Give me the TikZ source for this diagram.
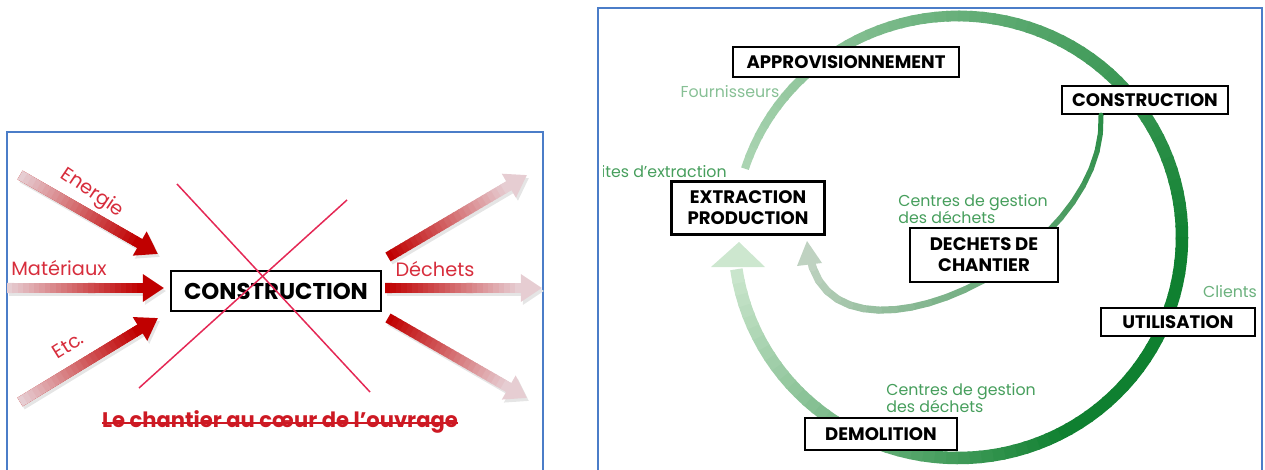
\documentclass[tikz,border=0pt]{standalone}
\usepackage{fontspec}
\setmainfont{Poppins}
\usetikzlibrary{arrows.meta}
\usetikzlibrary{calc}

\definecolor{reddk}{RGB}{192,0,0}
\definecolor{redlt}{RGB}{230,205,210}
\definecolor{redtxt}{RGB}{215,45,60}
\definecolor{redslog}{RGB}{205,25,35}
\definecolor{redx}{RGB}{228,40,85}
\definecolor{panel}{RGB}{75,125,200}
\definecolor{grdk}{RGB}{15,128,48}
\definecolor{grlt}{RGB}{215,236,215}
\definecolor{grgray}{RGB}{200,214,200}
\definecolor{grtxt}{RGB}{70,158,92}

\tikzset{
  box/.style={draw=black, line width=1.3pt, fill=white, align=center, inner sep=2pt,
    font=\bfseries\fontsize{10.3}{12}\selectfont},
  fat/.style={line width=5.8pt},
  redlbl/.style={text=redtxt, inner sep=0pt, font=\fontsize{11}{13}\selectfont},
  grlbl/.style={text=grtxt, inner sep=0pt, font=\fontsize{9}{9.7}\selectfont},
}

\begin{document}
\begin{tikzpicture}[x=0.02cm, y=-0.02cm]
        \useasboundingbox (0,0) rectangle (1265,470);
        % the two frames
        \draw[panel, line width=0.9pt] (7,480) -- (7,132) -- (543,132) -- (543,480);
        \draw[panel, line width=0.9pt] (598,480) -- (598,8) -- (1262,8) -- (1262,480);

        % left: the site at the heart of the work
        \coordinate (ea) at (20,175);  \coordinate (eb) at (158,254);
        \coordinate (ma) at (7,288);   \coordinate (mb) at (164,288);
        \coordinate (ta) at (20,402);  \coordinate (tb) at (158,318);
        \coordinate (da) at (388,257); \coordinate (db) at (527,175);
        \coordinate (oa) at (385,288); \coordinate (ob) at (542,288);
        \coordinate (ua) at (388,318); \coordinate (ub) at (527,398);
        \foreach \s/\e/\ca/\cb in {ea/eb/redlt/reddk, ma/mb/redlt/reddk, ta/tb/redlt/reddk,
            da/db/reddk/redlt, oa/ob/reddk/redlt, ua/ub/reddk/redlt}{
          \draw[fat, black!10, -{Triangle[width=15pt,length=12pt]}] ($(\s)+(2,3)$) -- ($(\e)+(2,3)$);
          \draw[fat, \cb, -{Triangle[width=15pt,length=12pt]}] (\s) -- (\e);
          \foreach \k [evaluate=\k as \p using 100*\k/24] in {0,...,24}
            \draw[fat, \cb!\p!\ca] ($(\s)!\k*0.0345!(\e)$) -- ($(\s)!\k*0.0345+0.045!(\e)$);
        }
        \node[box, minimum width=4.2cm, minimum height=0.8cm,
          font=\bfseries\fontsize{13}{15}\selectfont] (chantier) at (276,291) {CONSTRUCTION};
        \node[redlbl, rotate=-34] (energie) at (92,193) {Energie};
        \node[redlbl] (materiaux) at (59,268) {Matériaux};
        \node[redlbl, rotate=32] (etc) at (68,345) {Etc.};
        \node[redlbl] (dechets) at (435,269) {Déchets};
        \draw[redx, line width=0.85pt] (177,184) -- (370,392);
        \draw[redx, line width=0.85pt] (347,200) -- (139,388);
        \node[text=redslog, inner sep=0pt, font=\bfseries\fontsize{12}{14}\selectfont]
          (ouvrage) at (280,422) {Le chantier au cœur de l’ouvrage};
        \draw[redslog, line width=0.9pt] (ouvrage.mid west) -- (ouvrage.mid east);

        % right: the life cycle
        \coordinate (ctr) at (958,237);
        \foreach \a in {198,201,...,528}{
          \pgfmathsetmacro{\p}{min(100,22+0.48*(\a-198),100-0.8636*(\a-420))}
          \pgfmathsetmacro{\w}{0.569*min(12.5,8+(\a-198)/25)}
          \draw[grdk!\p!grlt, line width=\w pt] (ctr) ++(\a:224 and 221) arc (\a:\a+3.6:224 and 221);
        }
        \fill[grdk!5!grlt] (739,242) -- (765,267) -- (711,267) -- cycle;

        \node[box, minimum width=3.32cm, minimum height=0.56cm] (constr) at (1145,100) {CONSTRUCTION};
        \coordinate (ia) at ([xshift=-0.88cm]constr.south);
        \coordinate (ib) at (809,252);
        \foreach \i in {0,...,24}
          \path (ia) .. controls (1108,262) and (828,388) .. (ib) coordinate[pos=\i/24] (q\i);
        \foreach \i [evaluate=\i as \j using int(\i+1)] in {0,...,23}{
          \pgfmathsetmacro{\p}{85-80*\i/23}
          \pgfmathsetmacro{\w}{0.569*(5+3*\i/23)}
          \draw[grdk!\p!grgray, line width=\w pt, line cap=round] (q\i) -- (q\j);
        }
        \fill[grdk!5!grgray] (807,241) -- (822,263) -- (797,266) -- cycle;

        \node[box, minimum width=4.52cm, minimum height=0.6cm] (appro) at (846,62) {APPROVISIONNEMENT};
        \node[box, minimum width=3.06cm, minimum height=1.06cm] (extr) at (748,208) {EXTRACTION\\PRODUCTION};
        \node[box, minimum width=2.96cm, minimum height=1.08cm] (dchant) at (984,255) {DECHETS DE\\CHANTIER};
        \node[box, minimum width=3.08cm, minimum height=0.56cm] (util) at (1178,322) {UTILISATION};
        \node[box, minimum width=3.04cm, minimum height=0.64cm] (demo) at (881,434) {DEMOLITION};

        \node[grlbl, text=grtxt!65!white] (fourn) at (730,92) {Fournisseurs};
        \begin{scope}
          \clip (603,150) rectangle (770,195);
          \node[grlbl, anchor=east] (sites) at (727,172) {Sites d’extraction};
        \end{scope}
        \node[grlbl, anchor=west, align=left] (gest1) at (898,209) {Centres de gestion\\des déchets};
        \node[grlbl, text=grtxt!80!white] (clients) at (1230,292) {Clients};
        \node[grlbl, anchor=west, align=left] (gest2) at (886,398) {Centres de gestion\\des déchets};
\end{tikzpicture}
\end{document}
